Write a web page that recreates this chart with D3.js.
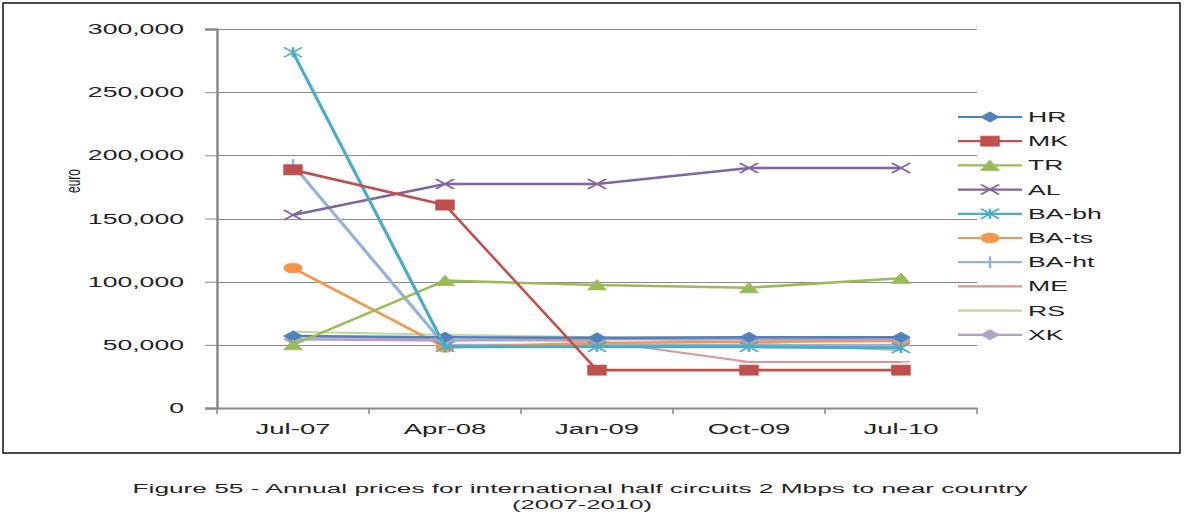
<!DOCTYPE html>
<html><head><meta charset="utf-8">
<script src="https://cdn.jsdelivr.net/npm/d3@7"></script>
<style>html,body{margin:0;padding:0;background:#fff;}svg{display:block;font-family:"Liberation Sans",Arial,sans-serif;}</style>
</head><body>
<svg id="c" width="1184" height="517"></svg>
<script>
const categories = ['Jul-07','Apr-08','Jan-09','Oct-09','Jul-10'];
const yTicks = [0, 50000, 100000, 150000, 200000, 250000, 300000];
const HR   = [57000, 56000, 55500, 56000, 56000];
const MK   = [188500, 160700, 30000, 30000, 30000];
const TR   = [50000, 100800, 97400, 95200, 102700];
const AL   = [152800, 177300, 177300, 190000, 190000];
const BAbh = [281500, 48500, 48500, 48500, 47500];
const BAts = [110800, 48000, 51500, 52500, 53000];
const BAht = [192300, 49500, 49500, 49500, 49500];
const ME   = [57000, 54000, 53000, 36500, 36500];
const RS   = [60400, 58000, 56000, 51500, 45500];
const XK   = [54400, 53500, 54500, 54500, 54500];
const seriesNames = ['HR','MK','TR','AL','BA-bh','BA-ts','BA-ht','ME','RS','XK'];
const seriesVals = [HR, MK, TR, AL, BAbh, BAts, BAht, ME, RS, XK];
const seriesColors = ['#4F81BD','#C0504D','#9BBB59','#8064A2','#4BACC6','#F79646','#95B3D7','#D99694','#C3D69B','#B3A2C7'];
const seriesMarkers = ['diamond','square','triangle','x','star','circle','plus','dash','none','diamond'];

(function () {
const SX = 1.9; // horizontal stretch of the original picture
const svg = d3.select('#c');
const pL = 217, pR = 977, pT = 29, pB = 408;
const x = d3.scaleBand().domain(categories).range([pL, pR]);
const y = d3.scaleLinear().domain([0, 300000]).range([pB, pT]);

// outer frame
svg.append('rect').attr('x', 3).attr('y', 3).attr('width', 1177).attr('height', 450)
  .attr('fill', 'none').attr('stroke', '#111').attr('stroke-width', 1.5);

function stext(px, py, txt, anchor, size, sx, fill) {
  return svg.append('text')
    .attr('transform', `translate(${px},${py}) scale(${sx},1)`)
    .attr('text-anchor', anchor)
    .attr('font-size', size)
    .attr('fill', fill || '#222')
    .text(txt);
}

// gridlines
svg.append('g').selectAll('line').data(yTicks.filter(d => d > 0)).join('line')
  .attr('x1', pL).attr('x2', pR)
  .attr('y1', d => Math.round(y(d)) + 0.5).attr('y2', d => Math.round(y(d)) + 0.5)
  .attr('stroke', '#8a8a8a').attr('stroke-width', 1);

// y axis
const yAxis = d3.axisLeft(y).tickValues(yTicks).tickSize(12).tickFormat('');
const gy = svg.append('g').attr('transform', `translate(${pL},0)`).call(yAxis);
gy.select('.domain').attr('stroke', '#8a8a8a').attr('stroke-width', 2.5);
gy.selectAll('.tick line').attr('stroke', '#8a8a8a').attr('stroke-width', 1);
yTicks.forEach(t => stext(184, y(t) + 5, d3.format(',')(t), 'end', 14, SX));

// x axis
const gx = svg.append('g').attr('transform', `translate(0,${pB})`)
  .call(d3.axisBottom(x).tickSize(0).tickFormat(''));
gx.select('.domain').attr('stroke', '#8a8a8a').attr('stroke-width', 2);
const bounds = categories.map(c => x(c)).concat([pR]);
svg.append('g').selectAll('line').data(bounds).join('line')
  .attr('x1', d => d).attr('x2', d => d).attr('y1', pB).attr('y2', pB + 6)
  .attr('stroke', '#8a8a8a').attr('stroke-width', 1.5);
categories.forEach(c => stext(x(c) + x.bandwidth() / 2, 434, c, 'middle', 14.5, SX));

// y label
svg.append('text').attr('transform', `translate(80,181) rotate(-90) scale(1,${SX*0.85})`)
  .attr('text-anchor', 'middle').attr('font-size', 12).attr('fill', '#222').text('euro');

// markers
function markerPath(type) {
  const s = 5;
  switch (type) {
    case 'diamond': return `M0,${-s}L${s},0L0,${s}L${-s},0Z`;
    case 'square': return `M${-s},${-s}H${s}V${s}H${-s}Z`;
    case 'triangle': return `M0,${-s}L${s},${s}H${-s}Z`;
    case 'x': return `M${-s},${-s}L${s},${s}M${-s},${s}L${s},${-s}`;
    case 'star': return `M${-s},${-s}L${s},${s}M${-s},${s}L${s},${-s}M0,${-s}V${s}`;
    case 'circle': return d3.symbol(d3.symbolCircle, 75)();
    case 'plus': return `M0,${-s-1}V${s+1}M${-s},0H${s}`;
    case 'dash': return `M${-s},0H${s}`;
    default: return '';
  }
}
function drawMarker(g, type, color, px, py) {
  if (type === 'none') return;
  const open = (type === 'x' || type === 'star' || type === 'plus' || type === 'dash');
  g.append('path').attr('d', markerPath(type))
    .attr('transform', `translate(${px},${py}) scale(${SX*0.95},1)`)
    .attr('fill', open ? 'none' : color)
    .attr('stroke', color).attr('stroke-width', open ? 1.4 : 0.8);
}

const line = d3.line().x((d, i) => x(categories[i]) + x.bandwidth() / 2).y(d => y(d));
[8,7,6,5,9,0,2,3,4,1].forEach(k => {
  const g = svg.append('g');
  const w = (k === 4 || k === 6) ? 3.2 : (k === 7 || k === 8 ? 2 : 2.6);
  g.append('path').datum(seriesVals[k]).attr('d', line)
    .attr('fill', 'none').attr('stroke', seriesColors[k]).attr('stroke-width', w)
    .attr('stroke-linejoin', 'round');
  seriesVals[k].forEach((v, i) => drawMarker(g, seriesMarkers[k], seriesColors[k], x(categories[i]) + x.bandwidth() / 2, y(v)));
});

// legend
seriesNames.forEach((n, k) => {
  const ly = 117 + k * 24.2;
  const g = svg.append('g');
  g.append('line').attr('x1', 958).attr('x2', 1022).attr('y1', ly).attr('y2', ly)
    .attr('stroke', seriesColors[k]).attr('stroke-width', 2.2);
  drawMarker(g, seriesMarkers[k], seriesColors[k], 990, ly);
  stext(1028, ly + 5, n, 'start', 14, SX);
});

// caption
svg.append('text').attr('x', 580).attr('y', 493).attr('text-anchor', 'middle')
  .attr('font-size', 12.5).attr('fill', '#222')
  .attr('textLength', 895).attr('lengthAdjust', 'spacingAndGlyphs')
  .text('Figure 55 - Annual prices for international half circuits 2 Mbps to near country');
svg.append('text').attr('x', 582).attr('y', 509).attr('text-anchor', 'middle')
  .attr('font-size', 12.5).attr('fill', '#222')
  .attr('textLength', 140).attr('lengthAdjust', 'spacingAndGlyphs')
  .text('(2007-2010)');
})();
</script>
</body></html>
